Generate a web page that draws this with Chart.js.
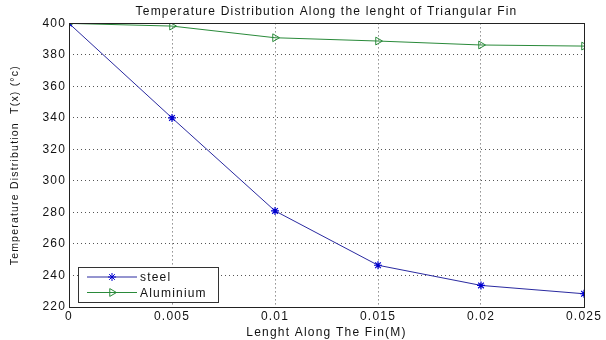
<!DOCTYPE html>
<html>
<head>
<meta charset="UTF-8">
<title>Temperature Distribution</title>
<script src="https://cdn.jsdelivr.net/npm/chart.js"></script>
<style>
body{margin:0;background:#fff;}
#wrap{width:606px;height:340px;position:relative;}
</style>
</head>
<body>
<div id="wrap"><canvas id="c" width="606" height="340"></canvas></div>
<script>
// data
const lengths = [0, 0.005, 0.01, 0.015, 0.02, 0.025];
const steel = [400, 340, 281, 246.5, 233.7, 228.4];
const aluminium = [400, 398.3, 390.9, 388.8, 386.3, 385.6];
const yTicks = [220, 240, 260, 280, 300, 320, 340, 360, 380, 400];
const xTicks = [0, 0.005, 0.01, 0.015, 0.02, 0.025];

const FONT = "'Liberation Sans', Arial, sans-serif";
const BLUE = '#2a2aa0';
const GREEN = '#2a8a3a';

function pts(ys){ return lengths.map((x,i)=>({x:x, y:ys[i]})); }

// frame + legend inside the plot (matlab style)
const matlabBox = {
    id:'matlabBox',
    beforeDraw(chart){ chart.ctx.letterSpacing = '1.2px'; },
    afterDraw(chart){
        const ctx = chart.ctx, a = chart.chartArea;
        ctx.save();
        ctx.strokeStyle = '#222';
        ctx.lineWidth = 1;
        ctx.setLineDash([]);
        ctx.strokeRect(Math.round(a.left)+0.5, Math.round(a.top)+0.5, Math.round(a.right-a.left), Math.round(a.bottom-a.top));

        // legend
        const lx = a.left + 9, ly = a.bottom - 40, lw = 140, lh = 35;
        ctx.fillStyle = '#fff';
        ctx.fillRect(lx, ly, lw, lh);
        ctx.strokeStyle = '#333';
        ctx.strokeRect(lx+0.5, ly+0.5, lw, lh);
        ctx.font = '12px ' + FONT;
        ctx.textBaseline = 'middle';
        chart.data.datasets.forEach((ds,i)=>{
            const y = ly + 10 + i*15.5;
            ctx.strokeStyle = ds.borderColor;
            ctx.lineWidth = 1;
            ctx.beginPath(); ctx.moveTo(lx+9, y); ctx.lineTo(lx+59, y); ctx.stroke();
            ctx.strokeStyle = ds.pointBorderColor;
            ctx.fillStyle = ds.backgroundColor;
            Chart.helpers.drawPoint(ctx, {pointStyle:ds.pointStyle, radius:ds.pointRadius, rotation:ds.pointRotation||0, borderWidth:ds.pointBorderWidth}, lx+34, y);
            ctx.fillStyle = '#111';
            ctx.fillText(ds.label, lx+62, y+1);
        });
        ctx.restore();
    }
};

new Chart(document.getElementById('c'), {
    type:'scatter',
    data:{
        datasets:[
            {label:'steel', data:pts(steel), showLine:true, borderColor:BLUE, backgroundColor:BLUE,
             borderWidth:1, pointStyle:'star', pointRadius:4, pointBorderColor:'#0000d0', pointBorderWidth:1.2},
            {label:'Aluminium', data:pts(aluminium), showLine:true, borderColor:GREEN, backgroundColor:'rgba(0,0,0,0)',
             borderWidth:1, pointStyle:'triangle', pointRotation:90, pointRadius:4.5, pointBorderColor:GREEN, pointBorderWidth:1}
        ]
    },
    options:{
        responsive:false,
        animation:false,
        layout:{padding:{left:8, right:22, top:0, bottom:0}},
        plugins:{
            legend:{display:false},
            tooltip:{enabled:false},
            title:{display:true, fullSize:false, text:'Temperature Distribution Along the lenght of Triangular Fin',
                   color:'#111', font:{family:FONT, size:12, weight:'normal'}, padding:{top:4, bottom:5}}
        },
        scales:{
            x:{
                type:'linear', min:0, max:0.025,
                afterBuildTicks(s){ s.ticks = xTicks.map(v=>({value:v})); },
                afterFit(s){ s.height = 33; },
                ticks:{color:'#111', font:{family:FONT, size:12}, padding:2, maxRotation:0,
                       callback:v=>String(parseFloat(v.toFixed(3)))},
                grid:{color:'#555', lineWidth:1, drawTicks:false},
                border:{display:false, dash:[1,3]},
                title:{display:true, text:'Lenght Along The Fin(M)', color:'#111',
                       font:{family:FONT, size:12}, padding:{top:1, bottom:0}}
            },
            y:{
                min:220, max:400,
                afterBuildTicks(s){ s.ticks = yTicks.map(v=>({value:v})); },
                afterFit(s){ s.width = 61; },
                ticks:{color:'#111', font:{family:FONT, size:12}, padding:3},
                grid:{color:'#555', lineWidth:1, drawTicks:false},
                border:{display:false, dash:[1,3]},
                title:{display:true, text:'Temperature Distribution  T(x) (\u00b0c)', color:'#111',
                       font:{family:FONT, size:10.5}, padding:{top:1, bottom:2}}
            }
        }
    },
    plugins:[matlabBox]
});
</script>
</body>
</html>
